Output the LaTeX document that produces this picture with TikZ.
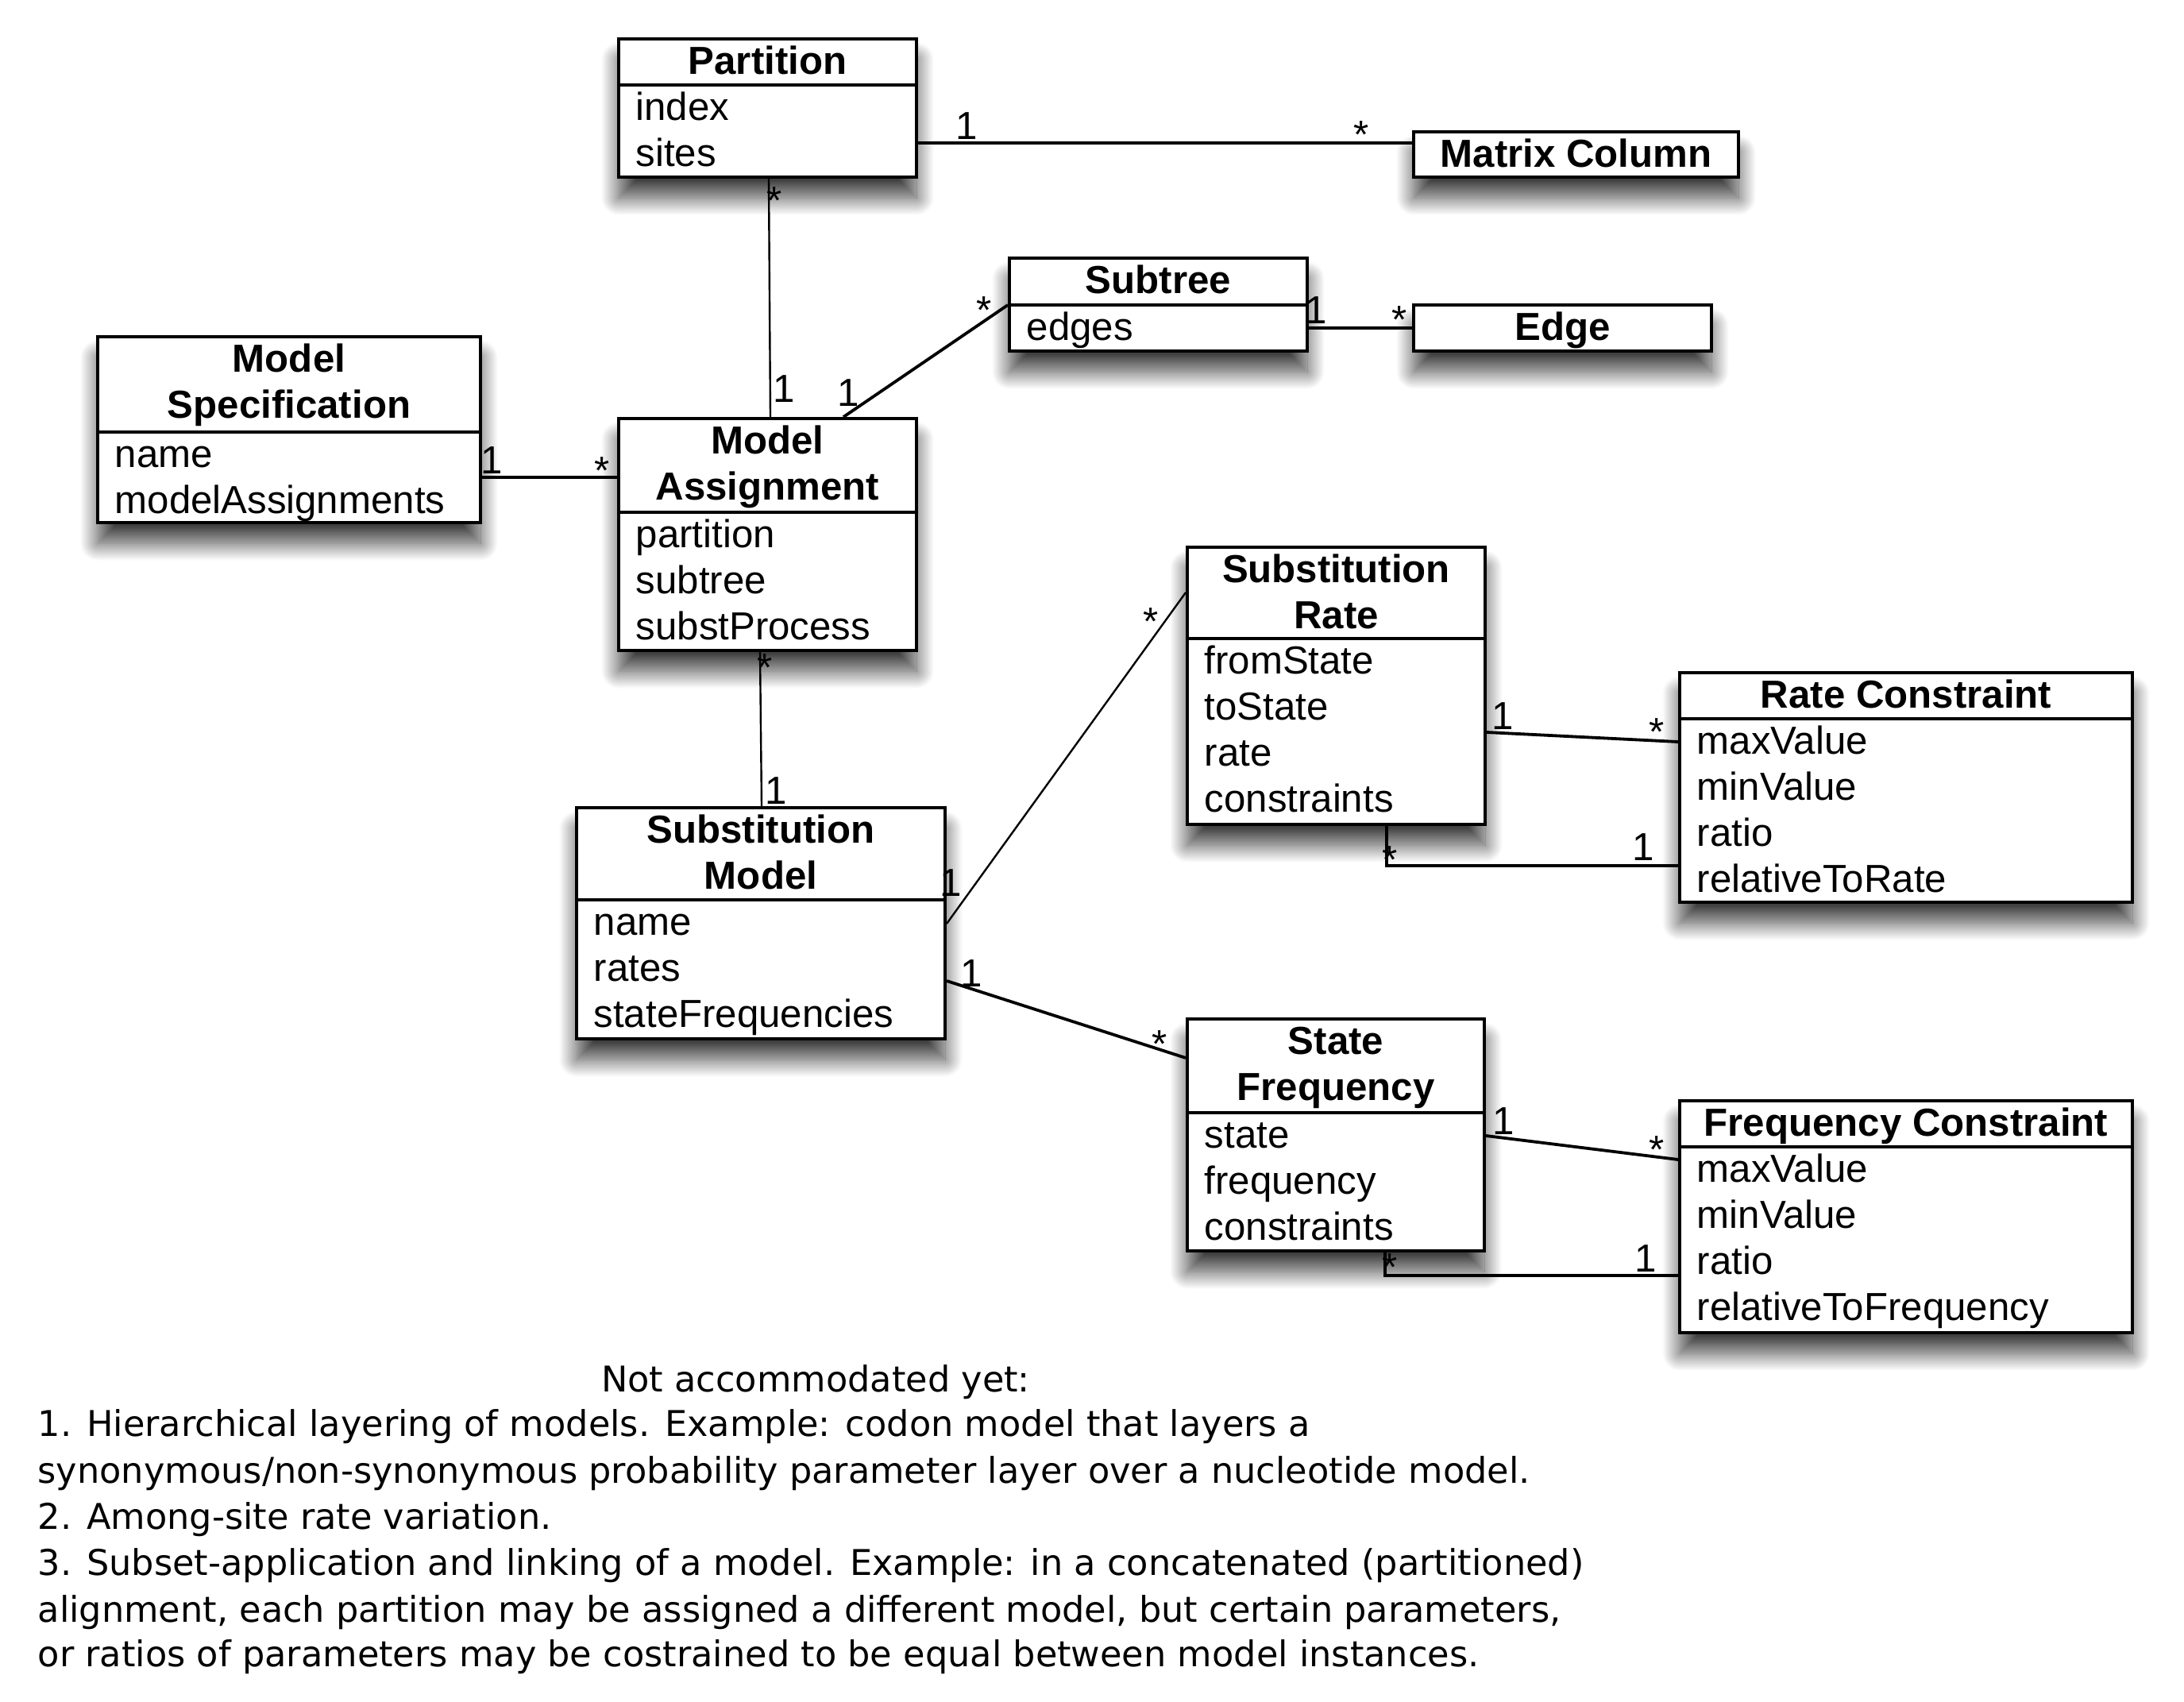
\documentclass[tikz,border=0pt]{standalone}
\usepackage{fontspec}
\setmainfont{Liberation Sans}
\newfontfamily\notefont{DejaVu Sans}
\usetikzlibrary{fit,shadows.blur}

\tikzset{
  umlbox/.style={draw=black, line width=0.4mm, fill=white, inner sep=0pt,
    blur shadow={shadow xshift=0mm, shadow yshift=-2.6mm,
      shadow blur radius=2.2mm, shadow blur steps=30, shadow opacity=75}},
  divider/.style={line width=0.4mm},
  hdr/.style={font=\fontsize{14}{16}\selectfont\bfseries, inner sep=0pt, anchor=base},
  attr/.style={font=\fontsize{14}{16}\selectfont, inner sep=0pt, anchor=base west},
  mult/.style={font=\fontsize{14}{16}\selectfont, inner sep=0pt, anchor=base},
  link/.style={line width=0.38mm},
  thinlink/.style={line width=0.24mm},
  note/.style={font=\notefont\fontsize{12.7}{15}\selectfont, inner sep=0pt, anchor=base west},
}

% class box: name, left, top, right, bottom, divider, header lines, attributes
\newcommand{\umlclass}[8]{%
  \coordinate (#1-nw) at (#2,#3);
  \coordinate (#1-se) at (#4,#5);
  \node[umlbox, fit=(#1-nw)(#1-se)] (#1) {};
  \draw[divider] (#1.west |- 0,#6) -- (#1.east |- 0,#6);
  \foreach \t [count=\i from 0] in {#7}
    \node[hdr] (#1-h\i) at ({(#2+#4)/2},{#3+4.4+5.8*\i}) {\t};
  \foreach \t [count=\i from 0] in {#8}
    \node[attr] (#1-a\i) at ({#2+2.1},{#6+4.4+5.8*\i}) {\t};
}
% class box with a name only
\newcommand{\umlname}[6]{%
  \coordinate (#1-nw) at (#2,#3);
  \coordinate (#1-se) at (#4,#5);
  \node[umlbox, fit=(#1-nw)(#1-se)] (#1) {};
  \node[hdr] (#1-h0) at ({(#2+#4)/2},{#3+4.4}) {#6};
}

\begin{document}
\begin{tikzpicture}[x=1mm, y={(0,-1mm)}]
\useasboundingbox (0,0) rectangle (275,214.2);

% classes
\umlclass{part}{77.9}{4.9}{115.4}{22.3}{10.7}{Partition}{index,sites}
\umlname{mc}{178.0}{16.6}{218.9}{22.3}{Matrix Column}
\umlclass{st}{127.1}{32.5}{164.6}{44.2}{38.4}{Subtree}{edges}
\umlname{edge}{178.0}{38.4}{215.5}{44.2}{Edge}
\umlclass{ms}{12.3}{42.4}{60.5}{65.8}{54.4}{Model,Specification}{name,modelAssignments}
\umlclass{ma}{77.9}{52.7}{115.4}{81.9}{64.5}{Model,Assignment}{partition,subtree,substProcess}
\umlclass{sr}{149.5}{68.9}{187.0}{103.8}{80.4}{Substitution,Rate}{fromState,toState,rate,constraints}
\umlclass{rc}{211.5}{84.7}{268.5}{113.6}{90.5}{Rate Constraint}{maxValue,minValue,ratio,relativeToRate}
\umlclass{sm}{72.6}{101.7}{119.0}{130.8}{113.3}{Substitution,Model}{name,rates,stateFrequencies}
\umlclass{sf}{149.5}{128.3}{186.9}{157.5}{140.1}{State,Frequency}{state,frequency,constraints}
\umlclass{fc}{211.5}{138.6}{268.5}{167.8}{144.4}{Frequency Constraint}{maxValue,minValue,ratio,relativeToFrequency}

% associations
\draw[link] (part.east |- 0,18.0) -- (mc.west |- 0,18.0);
\draw[thinlink] (part.south -| 96.8,0) -- (ma.north -| 97.0,0);
\draw[link] (ma.north -| 106.2,0) -- (st.west |- 0,38.4);
\draw[link] (st.east |- 0,41.3) -- (edge.west |- 0,41.3);
\draw[link] (ms.east |- 0,60.1) -- (ma.west |- 0,60.1);
\draw[thinlink] (ma.south -| 95.7,0) -- (sm.north -| 95.9,0);
\draw[thinlink] (sm.east |- 0,116.3) -- (sr.west |- 0,74.6);
\draw[link] (sm.east |- 0,123.5) -- (sf.west |- 0,133.2);
\draw[link] (sr.east |- 0,92.2) -- (rc.west |- 0,93.4);
\draw[link] (sr.south -| 174.6,0) |- (rc.west |- 0,109.0);
\draw[link] (sf.east |- 0,143.0) -- (fc.west |- 0,146.0);
\draw[link] (sf.south -| 174.4,0) |- (fc.west |- 0,160.6);

% multiplicities
\node[mult] (m1) at (121.7,17.5) {1};
\node[mult] (m2) at (171.4,18.6) {*};
\node[mult] (m3) at (97.5,26.9) {*};
\node[mult] (m4) at (98.7,50.6) {1};
\node[mult] (m5) at (106.8,51.1) {1};
\node[mult] (m6) at (123.9,40.7) {*};
\node[mult] (m7) at (165.7,40.7) {1};
\node[mult] (m8) at (176.2,41.9) {*};
\node[mult] (m9) at (61.9,59.6) {1};
\node[mult] (m10) at (75.8,60.9) {*};
\node[mult] (m11) at (96.3,85.7) {*};
\node[mult] (m12) at (97.7,101.2) {1};
\node[mult] (m13) at (119.7,112.8) {1};
\node[mult] (m14) at (144.9,79.9) {*};
\node[mult] (m15) at (122.3,124.2) {1};
\node[mult] (m16) at (146.0,133.1) {*};
\node[mult] (m17) at (189.2,91.8) {1};
\node[mult] (m18) at (208.6,93.8) {*};
\node[mult] (m19) at (175.0,109.9) {*};
\node[mult] (m20) at (206.9,108.3) {1};
\node[mult] (m21) at (189.3,142.8) {1};
\node[mult] (m22) at (208.6,146.4) {*};
\node[mult] (m23) at (175.0,161.2) {*};
\node[mult] (m24) at (207.2,160.1) {1};

% notes
\node[note, anchor=base] (n0) at (102.7,175.2) {Not accommodated yet:};
\node[note] (n1) at (4.7,180.8) {1. Hierarchical layering of models. Example: codon model that layers a};
\node[note] (n2) at (4.7,186.7) {synonymous/non-synonymous probability parameter layer over a nucleotide model.};
\node[note] (n3) at (4.7,192.5) {2. Among-site rate variation.};
\node[note] (n4) at (4.7,198.3) {3. Subset-application and linking of a model. Example: in a concatenated (partitioned)};
\node[note] (n5) at (4.7,204.2) {alignment, each partition may be assigned a different model, but certain parameters,};
\node[note] (n6) at (4.7,209.8) {or ratios of parameters may be costrained to be equal between model instances.};
\end{tikzpicture}
\end{document}
